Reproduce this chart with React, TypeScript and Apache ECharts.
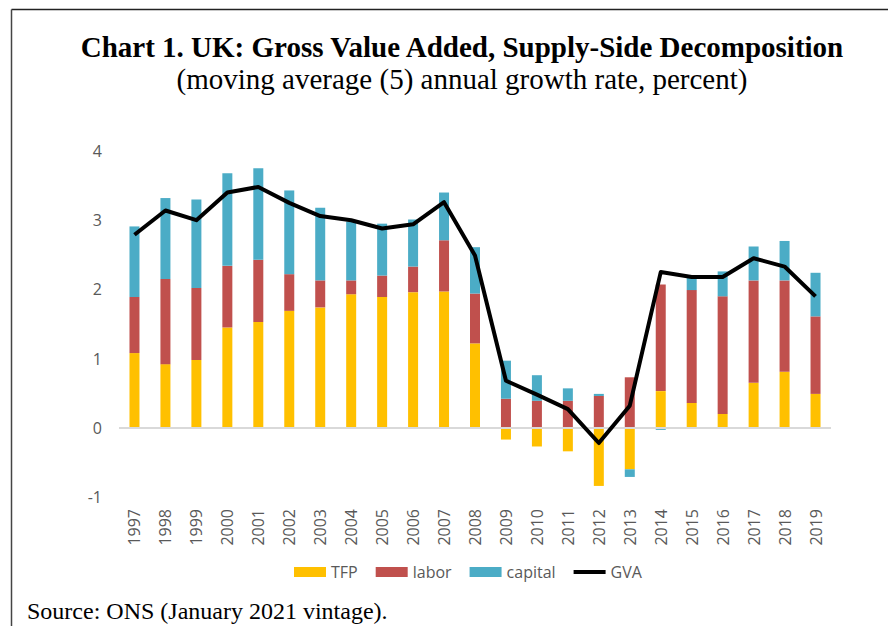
import React, { useEffect, useRef } from "react";
import * as echarts from "echarts";

const years = ["1997","1998","1999","2000","2001","2002","2003","2004","2005","2006","2007","2008","2009","2010","2011","2012","2013","2014","2015","2016","2017","2018","2019"];
const tfp = [1.08, 0.92, 0.98, 1.45, 1.53, 1.69, 1.74, 1.93, 1.89, 1.96, 1.97, 1.22, -0.17, -0.27, -0.34, -0.84, -0.60, 0.53, 0.36, 0.20, 0.65, 0.81, 0.49];
const labor = [0.81, 1.23, 1.04, 0.89, 0.90, 0.53, 0.39, 0.20, 0.31, 0.37, 0.74, 0.72, 0.42, 0.39, 0.39, 0.46, 0.73, 1.54, 1.63, 1.70, 1.48, 1.32, 1.12];
const capital = [1.02, 1.17, 1.28, 1.34, 1.32, 1.21, 1.05, 0.85, 0.75, 0.68, 0.69, 0.67, 0.55, 0.37, 0.18, 0.03, -0.11, -0.03, 0.21, 0.36, 0.49, 0.57, 0.63];
const gva = [2.79, 3.14, 3.00, 3.40, 3.48, 3.25, 3.06, 3.00, 2.88, 2.94, 3.26, 2.49, 0.68, 0.48, 0.27, -0.22, 0.32, 2.25, 2.18, 2.18, 2.45, 2.33, 1.90];

const titleText = "Chart 1. UK: Gross Value Added, Supply-Side Decomposition";
const subtitleText = "(moving average (5) annual growth rate, percent)";
const sourceText = "Source: ONS (January 2021 vintage).";

const sansFont = '"Open Sans", "Noto Sans", sans-serif';
const serifFont = '"Liberation Serif", "Times New Roman", serif';
const gray = "#595959";

export default function App() {
  const ref = useRef<HTMLDivElement>(null);
  useEffect(() => {
    if (!ref.current) return;
    const chart = echarts.init(ref.current, null, { renderer: "svg" });
    chart.setOption({
      animation: false,
      backgroundColor: "#ffffff",
      grid: { left: 119, right: 57, top: 151, bottom: 129, containLabel: false },
      legend: {
        left: 289,
        top: 559,
        itemWidth: 32,
        itemHeight: 10,
        itemGap: 18,
        textStyle: { color: gray, fontFamily: sansFont, fontSize: 16, lineHeight: 16 },
        data: [
          { name: "TFP", icon: "rect" },
          { name: "labor", icon: "rect" },
          { name: "capital", icon: "rect" },
          { name: "GVA", icon: "path://M0,0L32,0L32,4L0,4Z" },
        ],
      },
      xAxis: {
        type: "category",
        data: years,
        axisLine: { show: false, onZero: false },
        axisTick: { show: false },
        axisLabel: { rotate: 90, margin: 12, color: gray, fontFamily: sansFont, fontSize: 16 },
      },
      yAxis: {
        type: "value",
        min: -1,
        max: 4,
        interval: 1,
        axisLine: { show: false },
        axisTick: { show: false },
        splitLine: { show: false },
        axisLabel: { margin: 17, color: gray, fontFamily: sansFont, fontSize: 16 },
      },
      series: [
        {
          name: "TFP",
          type: "bar",
          stack: "s",
          barWidth: 10,
          data: tfp,
          itemStyle: { color: "#FFC000" },
          markLine: {
            silent: true,
            symbol: ["none", "none"],
            label: { show: false },
            lineStyle: { color: "#d9d9d9", width: 2, type: "solid" },
            data: [{ yAxis: 0 }],
          },
        },
        { name: "labor", type: "bar", stack: "s", barWidth: 10, data: labor, itemStyle: { color: "#C0504D" } },
        { name: "capital", type: "bar", stack: "s", barWidth: 10, data: capital, itemStyle: { color: "#4BACC6" } },
        {
          name: "GVA",
          type: "line",
          data: gva,
          symbol: "none",
          z: 5,
          lineStyle: { color: "#000000", width: 4, join: "round" },
          itemStyle: { color: "#000000" },
        },
      ],
      graphic: [
        { type: "line", shape: { x1: 11.5, y1: 9.5, x2: 888, y2: 9.5 }, style: { stroke: "#222", lineWidth: 1.5 } },
        { type: "line", shape: { x1: 11.5, y1: 9.5, x2: 11.5, y2: 626 }, style: { stroke: "#444", lineWidth: 1.5 } },
        {
          type: "text",
          x: 462,
          y: 32,
          style: { text: titleText, fontFamily: serifFont, fontSize: 29, fontWeight: "bold", fill: "#000", align: "center", verticalAlign: "top" },
        },
        {
          type: "text",
          x: 462,
          y: 64,
          style: { text: subtitleText, fontFamily: serifFont, fontSize: 29, fill: "#000", align: "center", verticalAlign: "top" },
        },
        {
          type: "text",
          x: 27,
          y: 599,
          style: { text: sourceText, fontFamily: serifFont, fontSize: 24, fill: "#000", align: "left", verticalAlign: "top" },
        },
      ],
    });
    return () => chart.dispose();
  }, []);
  return <div ref={ref} style={{ position: "fixed", left: 0, top: 0, width: 888, height: 626 }} />;
}
